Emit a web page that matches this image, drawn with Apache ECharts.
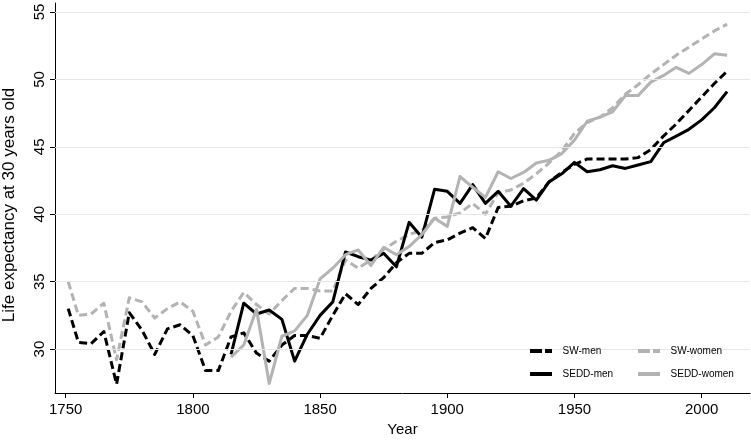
<!DOCTYPE html>
<html>
<head>
<meta charset="utf-8">
<script src="https://cdn.jsdelivr.net/npm/echarts@6/dist/echarts.min.js"></script>
<style>
html,body{margin:0;padding:0;background:#fff;}
#chart{width:751px;height:441px;}
</style>
</head>
<body>
<div id="chart"></div>
<script>
const swYears = [1751,1755,1760,1765,1770,1775,1780,1785,1790,1795,1800,1805,1810,1815,1820,1825,1830,1835,1840,1845,1850,1855,1860,1865,1870,1875,1880,1885,1890,1895,1900,1905,1910,1915,1920,1925,1930,1935,1940,1945,1950,1955,1960,1965,1970,1975,1980,1985,1990,1995,2000,2005,2010];
const swMen = [33.0,30.5,30.4,31.3,27.4,32.7,31.4,29.6,31.5,31.8,31.0,28.4,28.4,30.9,31.2,29.7,29.1,30.3,31.0,31.0,30.8,32.5,34.1,33.3,34.5,35.3,36.4,37.1,37.1,37.9,38.1,38.6,39.0,38.2,40.5,40.6,41.0,41.2,42.4,43.1,43.7,44.1,44.1,44.1,44.1,44.2,44.8,45.8,46.7,47.7,48.7,49.7,50.6];
const swWomen = [35.0,32.5,32.6,33.4,29.2,33.8,33.5,32.3,33.0,33.5,32.8,30.3,30.9,32.8,34.2,33.3,32.6,33.6,34.5,34.5,34.3,34.3,36.6,36.0,36.6,37.4,38.0,38.5,38.8,39.7,39.8,40.1,40.8,40.0,41.6,41.8,42.3,43.0,43.8,44.7,46.0,46.8,47.2,47.9,48.9,49.6,50.4,51.1,51.8,52.4,53.0,53.6,54.1];
const seddYears = [1815,1820,1825,1830,1835,1840,1845,1850,1855,1860,1865,1870,1875,1880,1885,1890,1895,1900,1905,1910,1915,1920,1925,1930,1935,1940,1945,1950,1955,1960,1965,1970,1975,1980,1985,1990,1995,2000,2005,2010];
const seddMen = [29.6,33.4,32.6,32.9,32.2,29.1,31.1,32.5,33.5,37.2,36.85,36.6,37.1,36.1,39.4,38.3,41.85,41.7,40.8,42.2,40.8,41.7,40.6,41.9,41.05,42.4,43.0,43.85,43.15,43.3,43.6,43.4,43.65,43.9,45.3,45.8,46.3,47.0,47.9,49.1];
const seddWomen = [29.4,30.3,32.95,27.45,30.95,31.35,32.5,35.2,36.0,37.0,37.35,36.2,37.55,37.0,37.6,38.5,39.7,39.1,42.8,42.0,41.25,43.15,42.65,43.1,43.8,44.0,44.5,45.5,46.9,47.2,47.6,48.8,48.8,49.8,50.3,50.9,50.45,51.1,51.9,51.8];
const xTicks = [1750,1800,1850,1900,1950,2000];
const yTicks = [30,35,40,45,50,55];
const seriesNames = ['SW-men','SW-women','SEDD-men','SEDD-women'];

const zip = (xs, ys) => xs.map((x, i) => [x, ys[i]]);
const FONT = '"Liberation Sans", Arial, Helvetica, sans-serif';
const BLACK = '#000000';
const GRAY = '#b3b3b3';
const DASH_ICON = 'path://M0,0H12V4H0Z M15,0H22V4H15Z';
const SOLID_ICON = 'path://M0,0H22V4H0Z';

const chart = echarts.init(document.getElementById('chart'), null, {renderer: 'canvas'});
const lineSeries = (name, data, color, dashed) => ({
  name, type: 'line', data, symbol: 'none', smooth: false, z: 3,
  lineStyle: {color, width: 3, type: dashed ? [8, 4] : 'solid', cap: 'butt', join: 'round'},
  itemStyle: {color},
  emphasis: {disabled: true}
});
const legendItem = (name, dashed, color) => ({name, icon: dashed ? DASH_ICON : SOLID_ICON, itemStyle: {color, borderWidth: 0}});
const legendBase = {
  orient: 'vertical', top: 345, padding: 0, z: 6,
  itemWidth: 22, itemHeight: 4, itemGap: 11, selectedMode: false,
  formatter: name => '  ' + name,
  textStyle: {fontFamily: FONT, fontSize: 10, color: '#000', lineHeight: 12}
};

chart.setOption({
  animation: false,
  backgroundColor: '#fff',
  grid: {left: 55, right: 1, top: 3, bottom: 48, containLabel: false, outerBoundsMode: 'none'},
  xAxis: {
    type: 'value', min: 1745.8, max: 2019,
    name: 'Year', nameLocation: 'middle', nameGap: 29,
    nameTextStyle: {fontFamily: FONT, fontSize: 15, color: '#000'},
    axisLine: {show: true, onZero: false, lineStyle: {color: '#000', width: 1}},
    axisTick: {show: true, length: 5, customValues: xTicks, lineStyle: {color: '#000'}},
    axisLabel: {customValues: xTicks, formatter: v => String(v), fontFamily: FONT, fontSize: 15, color: '#000', margin: 9},
    splitLine: {show: false}
  },
  yAxis: {
    type: 'value', min: 26.74, max: 55.67,
    name: 'Life expectancy at 30 years old', nameLocation: 'middle', nameGap: 37, nameRotate: 90,
    nameTextStyle: {fontFamily: FONT, fontSize: 17, color: '#000', padding: [0, 14, 0, 0]},
    axisLine: {show: true, onZero: false, lineStyle: {color: '#000', width: 1}},
    axisTick: {show: true, length: 5, customValues: yTicks, lineStyle: {color: '#000'}},
    axisLabel: {customValues: yTicks, rotate: 90, fontFamily: FONT, fontSize: 15, color: '#000', margin: 8},
    splitLine: {show: false}
  },
  legend: [
    Object.assign({}, legendBase, {left: 530,
      data: [legendItem('SW-men', true, BLACK), legendItem('SEDD-men', false, BLACK)]}),
    Object.assign({}, legendBase, {left: 638,
      data: [legendItem('SW-women', true, GRAY), legendItem('SEDD-women', false, GRAY)]})
  ],
  graphic: [{type: 'rect', left: 522, top: 338, shape: {width: 224, height: 50}, style: {fill: '#fff'}, z: 5, silent: true}],
  series: [
    {type: 'line', data: [], z: 1, silent: true,
     markLine: {silent: true, symbol: 'none', label: {show: false},
       lineStyle: {color: '#e6e6e6', width: 1, type: 'solid'},
       data: yTicks.map(v => ({yAxis: v}))}},
    lineSeries('SW-men', zip(swYears, swMen), BLACK, true),
    lineSeries('SW-women', zip(swYears, swWomen), GRAY, true),
    lineSeries('SEDD-men', zip(seddYears, seddMen), BLACK, false),
    lineSeries('SEDD-women', zip(seddYears, seddWomen), GRAY, false)
  ]
});
</script>
</body>
</html>
